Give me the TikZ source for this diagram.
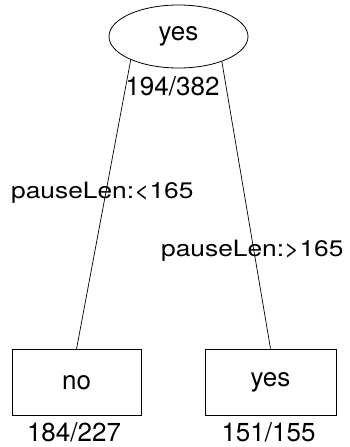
\documentclass[tikz,border=0pt]{standalone}
\usepackage{fontspec}
\setmainfont{TeX Gyre Heros}
\newfontfamily\widefont[FakeStretch=1.17]{TeX Gyre Heros}
\usetikzlibrary{shapes.geometric}
\begin{document}
\begin{tikzpicture}[x=1pt,y=-1pt,
  every node/.style={font=\fontsize{26}{30}\selectfont},
  leafbox/.style={draw,line width=0.8pt,inner sep=0pt,minimum height=66pt},
  rootell/.style={draw,ellipse,line width=0.8pt,inner sep=0pt,minimum width=139pt,minimum height=63pt},
  edgelab/.style={font=\widefont\fontsize{22.5}{26}\selectfont,inner sep=0pt,anchor=base west},
  countlab/.style={inner sep=0pt,anchor=base},
  conn/.style={line width=0.7pt}]
\useasboundingbox (0,0) rectangle (350,447);
\node[rootell] (root) at (178.5,36.5) {yes};
\node[leafbox,minimum width=129pt] (no) at (76.5,382.5) {no};
\node[leafbox,minimum width=131pt] (yes) at (270.5,382) {yes};
\node[countlab] (rc) at (172.5,95) {194/382};
\node[countlab] (nc) at (74,441) {184/227};
\node[countlab] (yc) at (268.5,441) {151/155};
\draw[conn] (root.206) -- (no.north);
\draw[conn] (root.330) -- (yes.north);
\node[edgelab] (l1) at (11,198) {pauseLen:<165};
\node[edgelab] (l2) at (161,256.5) {pauseLen:>165};
\end{tikzpicture}
\end{document}
